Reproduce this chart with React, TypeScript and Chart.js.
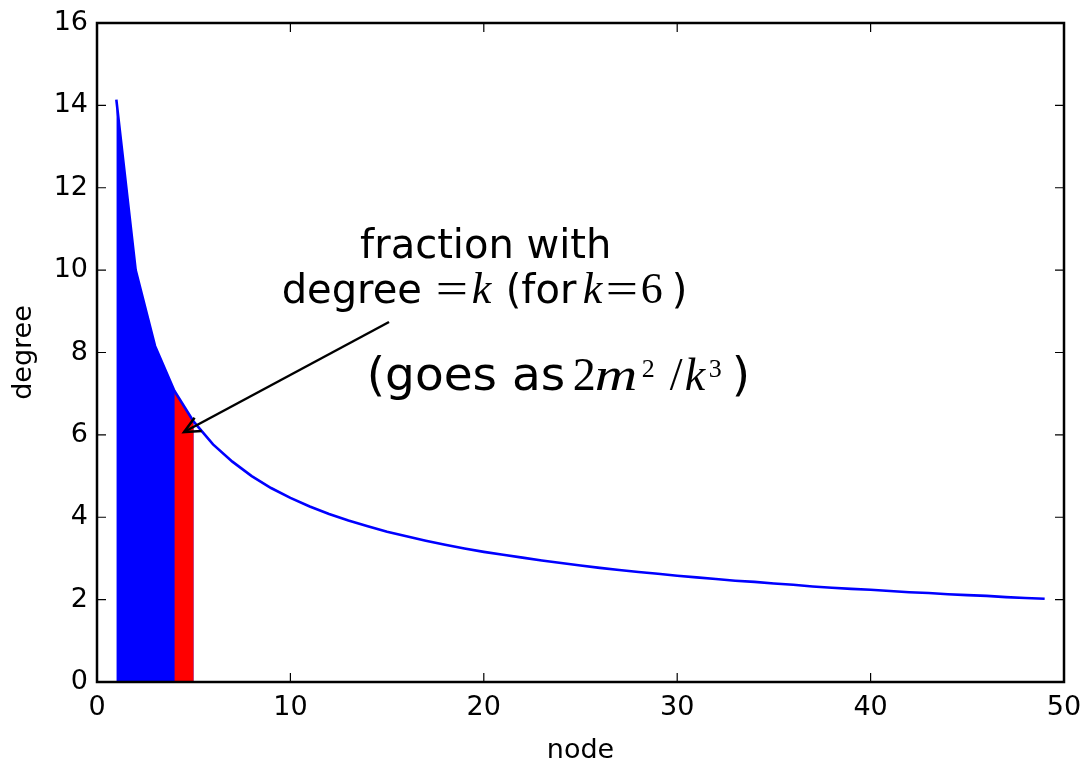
import { useEffect, useRef } from "react";
import { Chart, registerables } from "chart.js";

Chart.register(...registerables);

// ---- data ----
const nodes = [
  1, 2, 3, 4, 5, 6, 7, 8, 9, 10, 11, 12, 13, 14, 15, 16, 17, 18, 19, 20, 21, 22, 23, 24, 25,
  26, 27, 28, 29, 30, 31, 32, 33, 34, 35, 36, 37, 38, 39, 40, 41, 42, 43, 44, 45, 46, 47, 48, 49,
];
const degrees = [
  14.14, 10.0, 8.16, 7.07, 6.32, 5.77, 5.35, 5.0, 4.71, 4.47, 4.26, 4.08, 3.92, 3.78, 3.65,
  3.54, 3.43, 3.33, 3.24, 3.16, 3.09, 3.02, 2.95, 2.89, 2.83, 2.77, 2.72, 2.67, 2.63, 2.58,
  2.54, 2.5, 2.46, 2.43, 2.39, 2.36, 2.32, 2.29, 2.26, 2.24, 2.21, 2.18, 2.16, 2.13, 2.11,
  2.09, 2.06, 2.04, 2.02,
];
const blueNodes = [1, 4]; // shaded range (blue)
const redNodes = [4, 5]; // shaded range (red), k = 6
const xTicks = [0, 10, 20, 30, 40, 50];
const yTicks = [0, 2, 4, 6, 8, 10, 12, 14, 16];

const SANS = '"DejaVu Sans"';
const SERIF = '"Liberation Serif"';

const points = (lo: number, hi: number) =>
  nodes
    .map((n, i) => ({ x: n, y: degrees[i] }))
    .filter((p) => p.x >= lo && p.x <= hi);

type Run = { t: string; font: string; dx: number; dy?: number; sx?: number };

function drawRuns(ctx: CanvasRenderingContext2D, runs: Run[], x0: number, y0: number) {
  ctx.textAlign = "left";
  ctx.textBaseline = "alphabetic";
  for (const r of runs) {
    ctx.font = r.font;
    ctx.save();
    ctx.translate(x0 + r.dx, y0 + (r.dy || 0));
    if (r.sx) ctx.scale(r.sx, 1);
    ctx.fillText(r.t, 0, 0);
    ctx.restore();
  }
}

const overlayPlugin = {
  id: "overlay",
  afterDraw(chart: any) {
    const { ctx, chartArea: a, scales } = chart;
    const xs = scales.x;
    const ys = scales.y;
    ctx.save();
    ctx.strokeStyle = "#000";
    ctx.fillStyle = "#000";
    // inward tick marks on all four sides
    ctx.lineWidth = 1.2;
    const tl = 9;
    ctx.beginPath();
    for (const v of xTicks) {
      const px = xs.getPixelForValue(v);
      ctx.moveTo(px, a.bottom);
      ctx.lineTo(px, a.bottom - tl);
      ctx.moveTo(px, a.top);
      ctx.lineTo(px, a.top + tl);
    }
    for (const v of yTicks) {
      const py = ys.getPixelForValue(v);
      ctx.moveTo(a.left, py);
      ctx.lineTo(a.left + tl, py);
      ctx.moveTo(a.right, py);
      ctx.lineTo(a.right - tl, py);
    }
    ctx.stroke();
    // frame
    ctx.lineWidth = 2.5;
    ctx.strokeRect(a.left, a.top, a.right - a.left, a.bottom - a.top);

    // ---- annotation: arrow ----
    const tx = xs.getPixelForValue(15.1);
    const ty = ys.getPixelForValue(8.74);
    const hx = xs.getPixelForValue(4.5);
    const hy = ys.getPixelForValue(6.07);
    ctx.lineWidth = 2.5;
    ctx.lineCap = "butt";
    ctx.lineJoin = "miter";
    ctx.beginPath();
    ctx.moveTo(tx, ty);
    ctx.lineTo(hx, hy);
    ctx.stroke();
    const ang = Math.atan2(ty - hy, tx - hx);
    const hl = 16;
    const hw = 7.5;
    const bx = hx + hl * Math.cos(ang);
    const by = hy + hl * Math.sin(ang);
    ctx.beginPath();
    ctx.moveTo(bx - hw * Math.sin(ang), by + hw * Math.cos(ang));
    ctx.lineTo(hx, hy);
    ctx.lineTo(bx + hw * Math.sin(ang), by - hw * Math.cos(ang));
    ctx.stroke();

    // ---- annotation text block ----
    const cx = xs.getPixelForValue(20.1);
    const base2 = ys.getPixelForValue(9.21);
    const t40 = `40px ${SANS}`;
    const m44 = `44px ${SERIF}`;
    const mi44 = `italic 44px ${SERIF}`;
    ctx.textAlign = "center";
    ctx.textBaseline = "alphabetic";
    ctx.font = t40;
    ctx.fillText("fraction with", cx, base2 - 44.5);
    drawRuns(
      ctx,
      [
        { t: "degree", font: t40, dx: -1 },
        { t: "=", font: m44, dx: 153, sx: 1.3 },
        { t: "k", font: mi44, dx: 189 },
        { t: "(for", font: t40, dx: 223 },
        { t: "k", font: mi44, dx: 300 },
        { t: "=", font: m44, dx: 323, sx: 1.3 },
        { t: "6", font: m44, dx: 358 },
        { t: ")", font: t40, dx: 389 },
      ],
      cx - 203,
      base2
    );

    const lx = xs.getPixelForValue(14.0);
    const base3 = ys.getPixelForValue(7.08);
    const t47 = `47px ${SANS}`;
    const m46 = `46px ${SERIF}`;
    const mi46 = `italic 46px ${SERIF}`;
    const s26 = `26px ${SERIF}`;
    drawRuns(
      ctx,
      [
        { t: "(goes as", font: t47, dx: -1 },
        { t: "2", font: m46, dx: 205 },
        { t: "m", font: mi46, dx: 227, sx: 1.28 },
        { t: "2", font: s26, dx: 274, dy: -13 },
        { t: "/", font: m46, dx: 302 },
        { t: "k", font: mi46, dx: 317 },
        { t: "3", font: s26, dx: 341, dy: -13 },
        { t: ")", font: t47, dx: 364 },
      ],
      lx,
      base3
    );
    ctx.restore();
  },
};

export default function App() {
  const ref = useRef<HTMLCanvasElement | null>(null);

  useEffect(() => {
    document.body.style.margin = "0";
    if (!ref.current) return;
    Chart.defaults.font.family = SANS;
    Chart.defaults.color = "#000";
    const chart = new Chart(ref.current, {
      type: "line",
      data: {
        datasets: [
          {
            label: "degree",
            data: nodes.map((n, i) => ({ x: n, y: degrees[i] })),
            borderColor: "#0000ff",
            borderWidth: 2.6,
            pointRadius: 0,
            fill: false,
            tension: 0,
            order: 0,
          },
          {
            label: "k = 6",
            data: points(redNodes[0], redNodes[1]),
            borderColor: "rgba(0,0,0,0)",
            borderWidth: 0,
            backgroundColor: "#ff0000",
            pointRadius: 0,
            fill: "origin",
            tension: 0,
            order: 1,
          },
          {
            // blue area; continued beneath the red band so no seam shows at the joint
            label: "degree > k",
            data: points(blueNodes[0], redNodes[1]),
            borderColor: "rgba(0,0,0,0)",
            borderWidth: 0,
            backgroundColor: "#0000ff",
            pointRadius: 0,
            fill: "origin",
            tension: 0,
            order: 2,
          },
        ],
      },
      options: {
        animation: false,
        responsive: false,
        devicePixelRatio: 1,
        layout: { padding: { top: 23, right: 25, left: 0, bottom: 0 } },
        plugins: {
          legend: { display: false },
          tooltip: { enabled: false },
        },
        scales: {
          x: {
            type: "linear",
            min: 0,
            max: 50,
            grid: { display: false, drawTicks: false },
            border: { display: false },
            afterBuildTicks: (s: any) => {
              s.ticks = xTicks.map((v) => ({ value: v }));
            },
            afterFit: (s: any) => {
              s.height = 84;
              s.paddingLeft = 0;
              s.paddingRight = 0;
            },
            ticks: {
              font: { size: 27, family: SANS, lineHeight: 1 },
              color: "#000",
              padding: 12.5,
              maxRotation: 0,
              autoSkip: false,
            },
            title: {
              display: true,
              text: "node",
              color: "#000",
              font: { size: 27, family: SANS, lineHeight: 1 },
              padding: { top: 0, bottom: 2 },
            },
          },
          y: {
            type: "linear",
            min: 0,
            max: 16,
            grid: { display: false, drawTicks: false },
            border: { display: false },
            afterBuildTicks: (s: any) => {
              s.ticks = yTicks.map((v) => ({ value: v }));
            },
            afterFit: (s: any) => {
              s.width = 97;
              s.paddingTop = 0;
              s.paddingBottom = 0;
            },
            ticks: {
              font: { size: 27, family: SANS, lineHeight: 1 },
              color: "#000",
              padding: 9,
              autoSkip: false,
            },
            title: {
              display: true,
              text: "degree",
              color: "#000",
              font: { size: 27, family: SANS, lineHeight: 1 },
              padding: { top: 10, bottom: 0 },
            },
          },
        },
      },
      plugins: [overlayPlugin],
    });
    return () => chart.destroy();
  }, []);

  return (
    <canvas
      ref={ref}
      width={1089}
      height={766}
      style={{ display: "block", width: 1089, height: 766 }}
    />
  );
}
